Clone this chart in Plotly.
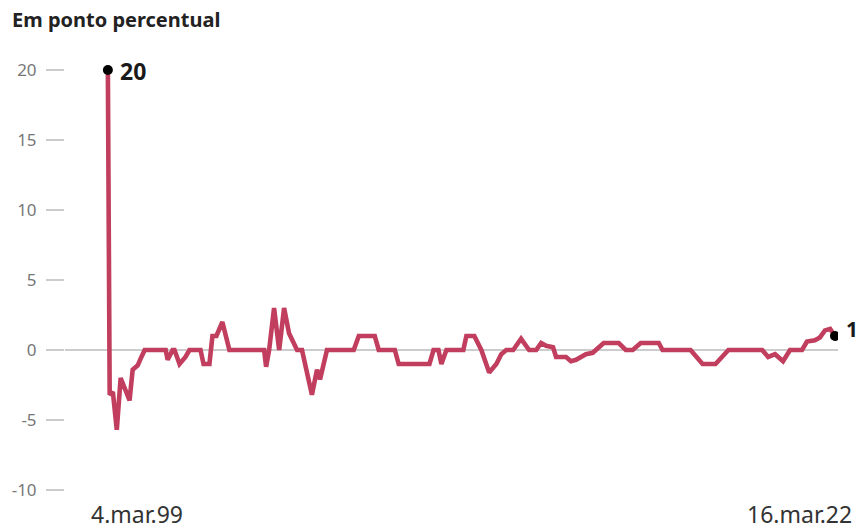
import plotly.graph_objects as go

# Variação em pontos percentuais ao longo do período
dates = [
    "1999-03-04", "1999-03-25", "1999-05-01", "1999-06-15", "1999-07-30",
    "1999-09-16", "1999-11-10", "1999-12-16", "2000-02-13", "2000-03-18",
    "2000-05-03", "2001-01-01", "2001-01-24", "2001-03-22", "2001-04-13",
    "2001-06-10", "2001-08-18", "2001-10-03", "2002-02-08", "2002-03-15",
    "2002-05-22", "2002-06-26", "2002-08-11", "2002-10-19", "2003-01-08",
    "2004-02-14", "2004-03-08", "2004-04-12", "2004-06-08", "2004-08-06",
    "2004-10-02", "2004-11-28", "2005-01-25", "2005-03-01", "2005-04-27",
    "2005-08-20", "2005-10-18", "2005-11-22", "2006-02-10", "2006-12-17",
    "2007-02-13", "2007-08-17", "2007-10-02", "2008-04-05", "2008-05-20",
    "2009-05-11", "2009-06-27", "2009-08-23", "2009-09-26", "2009-11-23",
    "2010-06-07", "2010-07-12", "2010-10-12", "2011-01-01", "2011-04-02",
    "2011-06-24", "2011-08-20", "2011-10-17", "2012-01-05", "2012-04-05",
    "2012-07-07", "2012-09-27", "2012-11-23", "2013-01-20", "2013-04-10",
    "2013-05-15", "2013-09-07", "2013-11-03", "2014-01-01", "2014-02-28",
    "2014-04-25", "2014-07-13", "2014-09-20", "2014-11-17", "2015-05-10",
    "2015-07-30", "2015-10-19", "2016-01-19", "2016-08-15", "2016-09-28",
    "2017-08-18", "2018-01-04", "2018-06-03", "2018-08-22", "2018-10-30",
    "2019-11-25", "2020-02-02", "2020-04-22", "2020-07-23", "2020-10-12",
    "2021-02-28", "2021-04-26", "2021-07-26", "2021-09-23", "2021-11-20",
    "2022-01-19", "2022-03-16",
]
values = [
    20, -3.2, -3.0, -5.7, -2.0,
    -2.7, -3.6, -1.4, -1.1, -0.6,
    0, 0, -0.7, 0, 0,
    -1.0, -0.5, 0, 0, -1,
    -1, 1, 1, 2, 0,
    0, -1.2, 0, 3, 0,
    3, 1.2, 0.5, 0, 0,
    -3.2, -1.4, -2.1, 0, 0,
    1, 1, 0, 0, -1,
    -1, 0, 0, -1, 0,
    0, 1, 1, 0, -1.6,
    -1, -0.3, 0, 0, 0.8,
    0, 0, 0.5, 0.3, 0.2,
    -0.5, -0.5, -0.8, -0.7, -0.5,
    -0.3, -0.2, 0.2, 0.5, 0.5,
    0, 0, 0.5, 0.5, 0,
    0, -1, -1, -0.5, 0,
    0, -0.5, -0.3, -0.8, 0,
    0, 0.6, 0.7, 0.9, 1.4,
    1.5, 1,
]

y_ticks = [20, 15, 10, 5, 0, -5, -10]
y_tick_text = ["20", "15", "10", "5", "0", "-5", "-10"]
start_label = "4.mar.99"
end_label = "16.mar.22"

LINE = "#c13e5e"

fig = go.Figure()
fig.add_trace(go.Scatter(
    x=dates, y=values, mode="lines",
    line=dict(color=LINE, width=4.6),
    hoverinfo="skip", showlegend=False,
))
# Pontos de início e fim
fig.add_trace(go.Scatter(
    x=[dates[0], dates[-1]], y=[values[0], values[-1]], mode="markers",
    marker=dict(color="#000000", size=10),
    hoverinfo="skip", showlegend=False,
))

fig.add_annotation(x=dates[0], y=values[0], text=f"<b>{values[0]}</b>",
                   xanchor="left", yanchor="middle", xshift=10, yshift=-1,
                   showarrow=False, font=dict(size=23, color="#1a1a1a", family="Noto Sans"))
fig.add_annotation(x=dates[-1], y=values[-1], text=f"<b>{values[-1]}</b>",
                   xanchor="left", yanchor="middle", xshift=9, yshift=7,
                   showarrow=False, font=dict(size=21, color="#1a1a1a", family="Noto Sans"))

# Rótulos das datas extremas, abaixo do eixo
fig.add_annotation(x=dates[0], y=-10.2, xref="x", yref="y", text=start_label,
                   xanchor="left", yanchor="top", xshift=-19, yshift=-3, showarrow=False,
                   font=dict(size=23, color="#333333", family="Noto Sans"))
fig.add_annotation(x=dates[-1], y=-10.2, xref="x", yref="y", text=end_label,
                   xanchor="right", yanchor="top", xshift=19, yshift=-3, showarrow=False,
                   font=dict(size=23, color="#333333", family="Noto Sans"))

fig.update_layout(
    width=866, height=530,
    margin=dict(l=62, r=28, t=56, b=30),
    paper_bgcolor="white", plot_bgcolor="white",
    title=dict(text="<b>Em ponto percentual</b>", xref="container", yref="container",
               x=12 / 866, y=1 - 20 / 530, xanchor="left", yanchor="middle",
               font=dict(size=20, color="#222222", family="Noto Sans")),
    xaxis=dict(range=["1997-10-24", "2022-04-20"], showgrid=False, zeroline=False,
               showline=False, showticklabels=False, ticks=""),
    yaxis=dict(range=[-150 / 14, 21], tickvals=y_ticks, ticktext=y_tick_text,
               showgrid=False, showline=False,
               zeroline=True, zerolinecolor="#cccccc", zerolinewidth=1.5,
               ticks="outside", ticklen=18, tickcolor="#cccccc", tickwidth=1.5,
               ticklabelstandoff=6,
               tickfont=dict(size=17, color="#777777", family="Noto Sans")),
)

fig.write_html("out.html")
